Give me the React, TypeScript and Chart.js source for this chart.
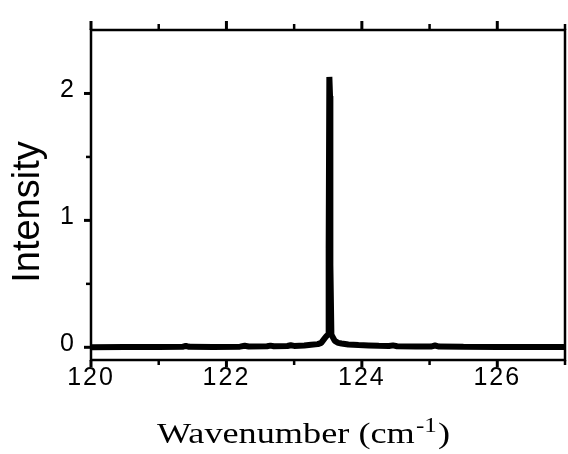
import React, { useEffect, useRef } from "react";
import { Chart, registerables } from "chart.js";

Chart.register(...registerables);

// Spectrum data (wavenumber in cm^-1, intensity)
const wavenumbers = [
  120.0, 120.5, 121.0, 121.35, 121.4, 121.45, 121.8, 122.2, 122.27, 122.33,
  122.6, 122.65, 122.7, 122.9, 122.95, 123.0, 123.15, 123.25, 123.35, 123.4,
  123.45, 123.48, 123.5, 123.51, 123.52, 123.53, 123.535, 123.55, 123.56, 123.6,
  123.65, 123.7, 123.8, 123.95, 124.1, 124.25, 124.4, 124.46, 124.52, 124.8,
  125.02, 125.08, 125.14, 125.5, 126.0, 126.5, 127.0,
];
const intensities = [
  0.0, 0.002, 0.003, 0.004, 0.012, 0.004, 0.003, 0.005, 0.012, 0.006,
  0.008, 0.013, 0.008, 0.01, 0.016, 0.011, 0.014, 0.02, 0.025, 0.035,
  0.07, 0.09, 0.1, 0.78, 2.13, 1.98, 0.65, 0.1, 0.09, 0.05,
  0.035, 0.03, 0.022, 0.018, 0.015, 0.012, 0.01, 0.015, 0.008, 0.006,
  0.006, 0.014, 0.006, 0.004, 0.003, 0.002, 0.002,
];

const xTickValues = [120, 121, 122, 123, 124, 125, 126, 127];
const xLabelValues = [120, 122, 124, 126];
const yTickValues = [0, 0.5, 1, 1.5, 2];
const yLabelValues = [0, 1, 2];

const xTitleMain = "Wavenumber (cm";
const xTitleSup = "-1";
const xTitleEnd = ")";
const yTitle = "Intensity";

const SANS = '"Liberation Sans", Arial, sans-serif';
const SERIF = '"Liberation Serif", "Times New Roman", serif';

const spacingPlugin = {
  id: "spacing",
  beforeDraw(chart: any) {
    (chart.ctx as any).letterSpacing = "2px";
  },
};

const framePlugin = {
  id: "frame",
  afterDraw(chart: any) {
    const { ctx, chartArea, scales } = chart;
    const { left, right, top, bottom } = chartArea;
    const x = scales.x;
    const y = scales.y;
    ctx.save();
    ctx.strokeStyle = "#000";
    ctx.fillStyle = "#000";
    ctx.lineWidth = 2.5;
    ctx.strokeRect(left, top, right - left, bottom - top);
    const line = (x1: number, y1: number, x2: number, y2: number) => {
      ctx.beginPath();
      ctx.moveTo(x1, y1);
      ctx.lineTo(x2, y2);
      ctx.stroke();
    };
    xTickValues.forEach((v) => {
      const px = x.getPixelForValue(v);
      const major = xLabelValues.includes(v);
      ctx.lineWidth = major ? 3 : 2.5;
      line(px, bottom, px, bottom + (major ? 7 : 5));
      line(px, top, px, top - (major ? 9 : 6));
    });
    yTickValues.forEach((v) => {
      const py = y.getPixelForValue(v);
      const major = yLabelValues.includes(v);
      ctx.lineWidth = major ? 3 : 2.5;
      line(left, py, left - (major ? 7 : 5), py);
    });

    (ctx as any).letterSpacing = "0px";

    // Y title
    ctx.save();
    ctx.font = `38px ${SANS}`;
    ctx.textAlign = "center";
    ctx.textBaseline = "alphabetic";
    ctx.translate(39, 212);
    ctx.rotate(-Math.PI / 2);
    ctx.fillText(yTitle, 0, 0);
    ctx.restore();

    // X title with superscript (horizontally widened serif)
    const mainFont = `29px ${SERIF}`;
    const supFont = `20px ${SERIF}`;
    ctx.save();
    ctx.textAlign = "left";
    ctx.textBaseline = "alphabetic";
    ctx.font = mainFont;
    const w1 = ctx.measureText(xTitleMain).width;
    ctx.font = supFont;
    const w2 = ctx.measureText(xTitleSup).width;
    ctx.translate(157, 443);
    ctx.scale(1.25, 1);
    let sx = 0;
    ctx.font = mainFont;
    ctx.fillText(xTitleMain, sx, 0);
    sx += w1 + 1;
    ctx.font = supFont;
    ctx.fillText(xTitleSup, sx, -11);
    sx += w2 + 1;
    ctx.font = mainFont;
    ctx.fillText(xTitleEnd, sx, 0);
    ctx.restore();

    ctx.restore();
  },
};

export default function App() {
  const canvasRef = useRef<HTMLCanvasElement | null>(null);

  useEffect(() => {
    const canvas = canvasRef.current;
    if (!canvas) return;
    const points = wavenumbers.map((w, i) => ({ x: w, y: intensities[i] }));
    const chart = new Chart(canvas, {
      type: "line",
      data: {
        datasets: [
          {
            data: points,
            borderColor: "#000",
            backgroundColor: "#000",
            borderWidth: 6,
            pointRadius: 0,
            tension: 0,
            borderJoinStyle: "bevel",
            fill: false,
          },
        ],
      },
      options: {
        responsive: false,
        animation: false,
        devicePixelRatio: 1,
        layout: { padding: { top: 22, right: 1, left: 0, bottom: 0 } },
        plugins: {
          legend: { display: false },
          tooltip: { enabled: false },
        },
        scales: {
          x: {
            type: "linear",
            min: 120,
            max: 127,
            grid: { display: false, drawTicks: false, tickLength: 0 },
            border: { display: false },
            afterBuildTicks: (scale: any) => {
              scale.ticks = xTickValues.map((v) => ({ value: v }));
            },
            afterFit: (scale: any) => {
              scale.height = 94;
            },
            ticks: {
              autoSkip: false,
              maxRotation: 0,
              padding: 3,
              color: "#000",
              font: { family: SANS, size: 25 },
              callback: (v: any) => (xLabelValues.includes(Number(v)) ? String(v) : ""),
            },
          },
          y: {
            type: "linear",
            min: -0.1,
            max: 2.5,
            grid: { display: false, drawTicks: false, tickLength: 0 },
            border: { display: false },
            afterBuildTicks: (scale: any) => {
              scale.ticks = yTickValues.map((v) => ({ value: v }));
            },
            afterFit: (scale: any) => {
              scale.width = 91;
            },
            ticks: {
              autoSkip: false,
              padding: 15,
              labelOffset: -3,
              color: "#000",
              font: { family: SANS, size: 25 },
              callback: (v: any) => (yLabelValues.includes(Number(v)) ? String(v) : ""),
            },
          },
        },
      },
      plugins: [spacingPlugin, framePlugin],
    });
    return () => chart.destroy();
  }, []);

  return (
    <div style={{ position: "absolute", left: 0, top: 0, width: 568, height: 454, background: "#fff" }}>
      <canvas ref={canvasRef} width={568} height={454} style={{ display: "block" }} />
    </div>
  );
}
